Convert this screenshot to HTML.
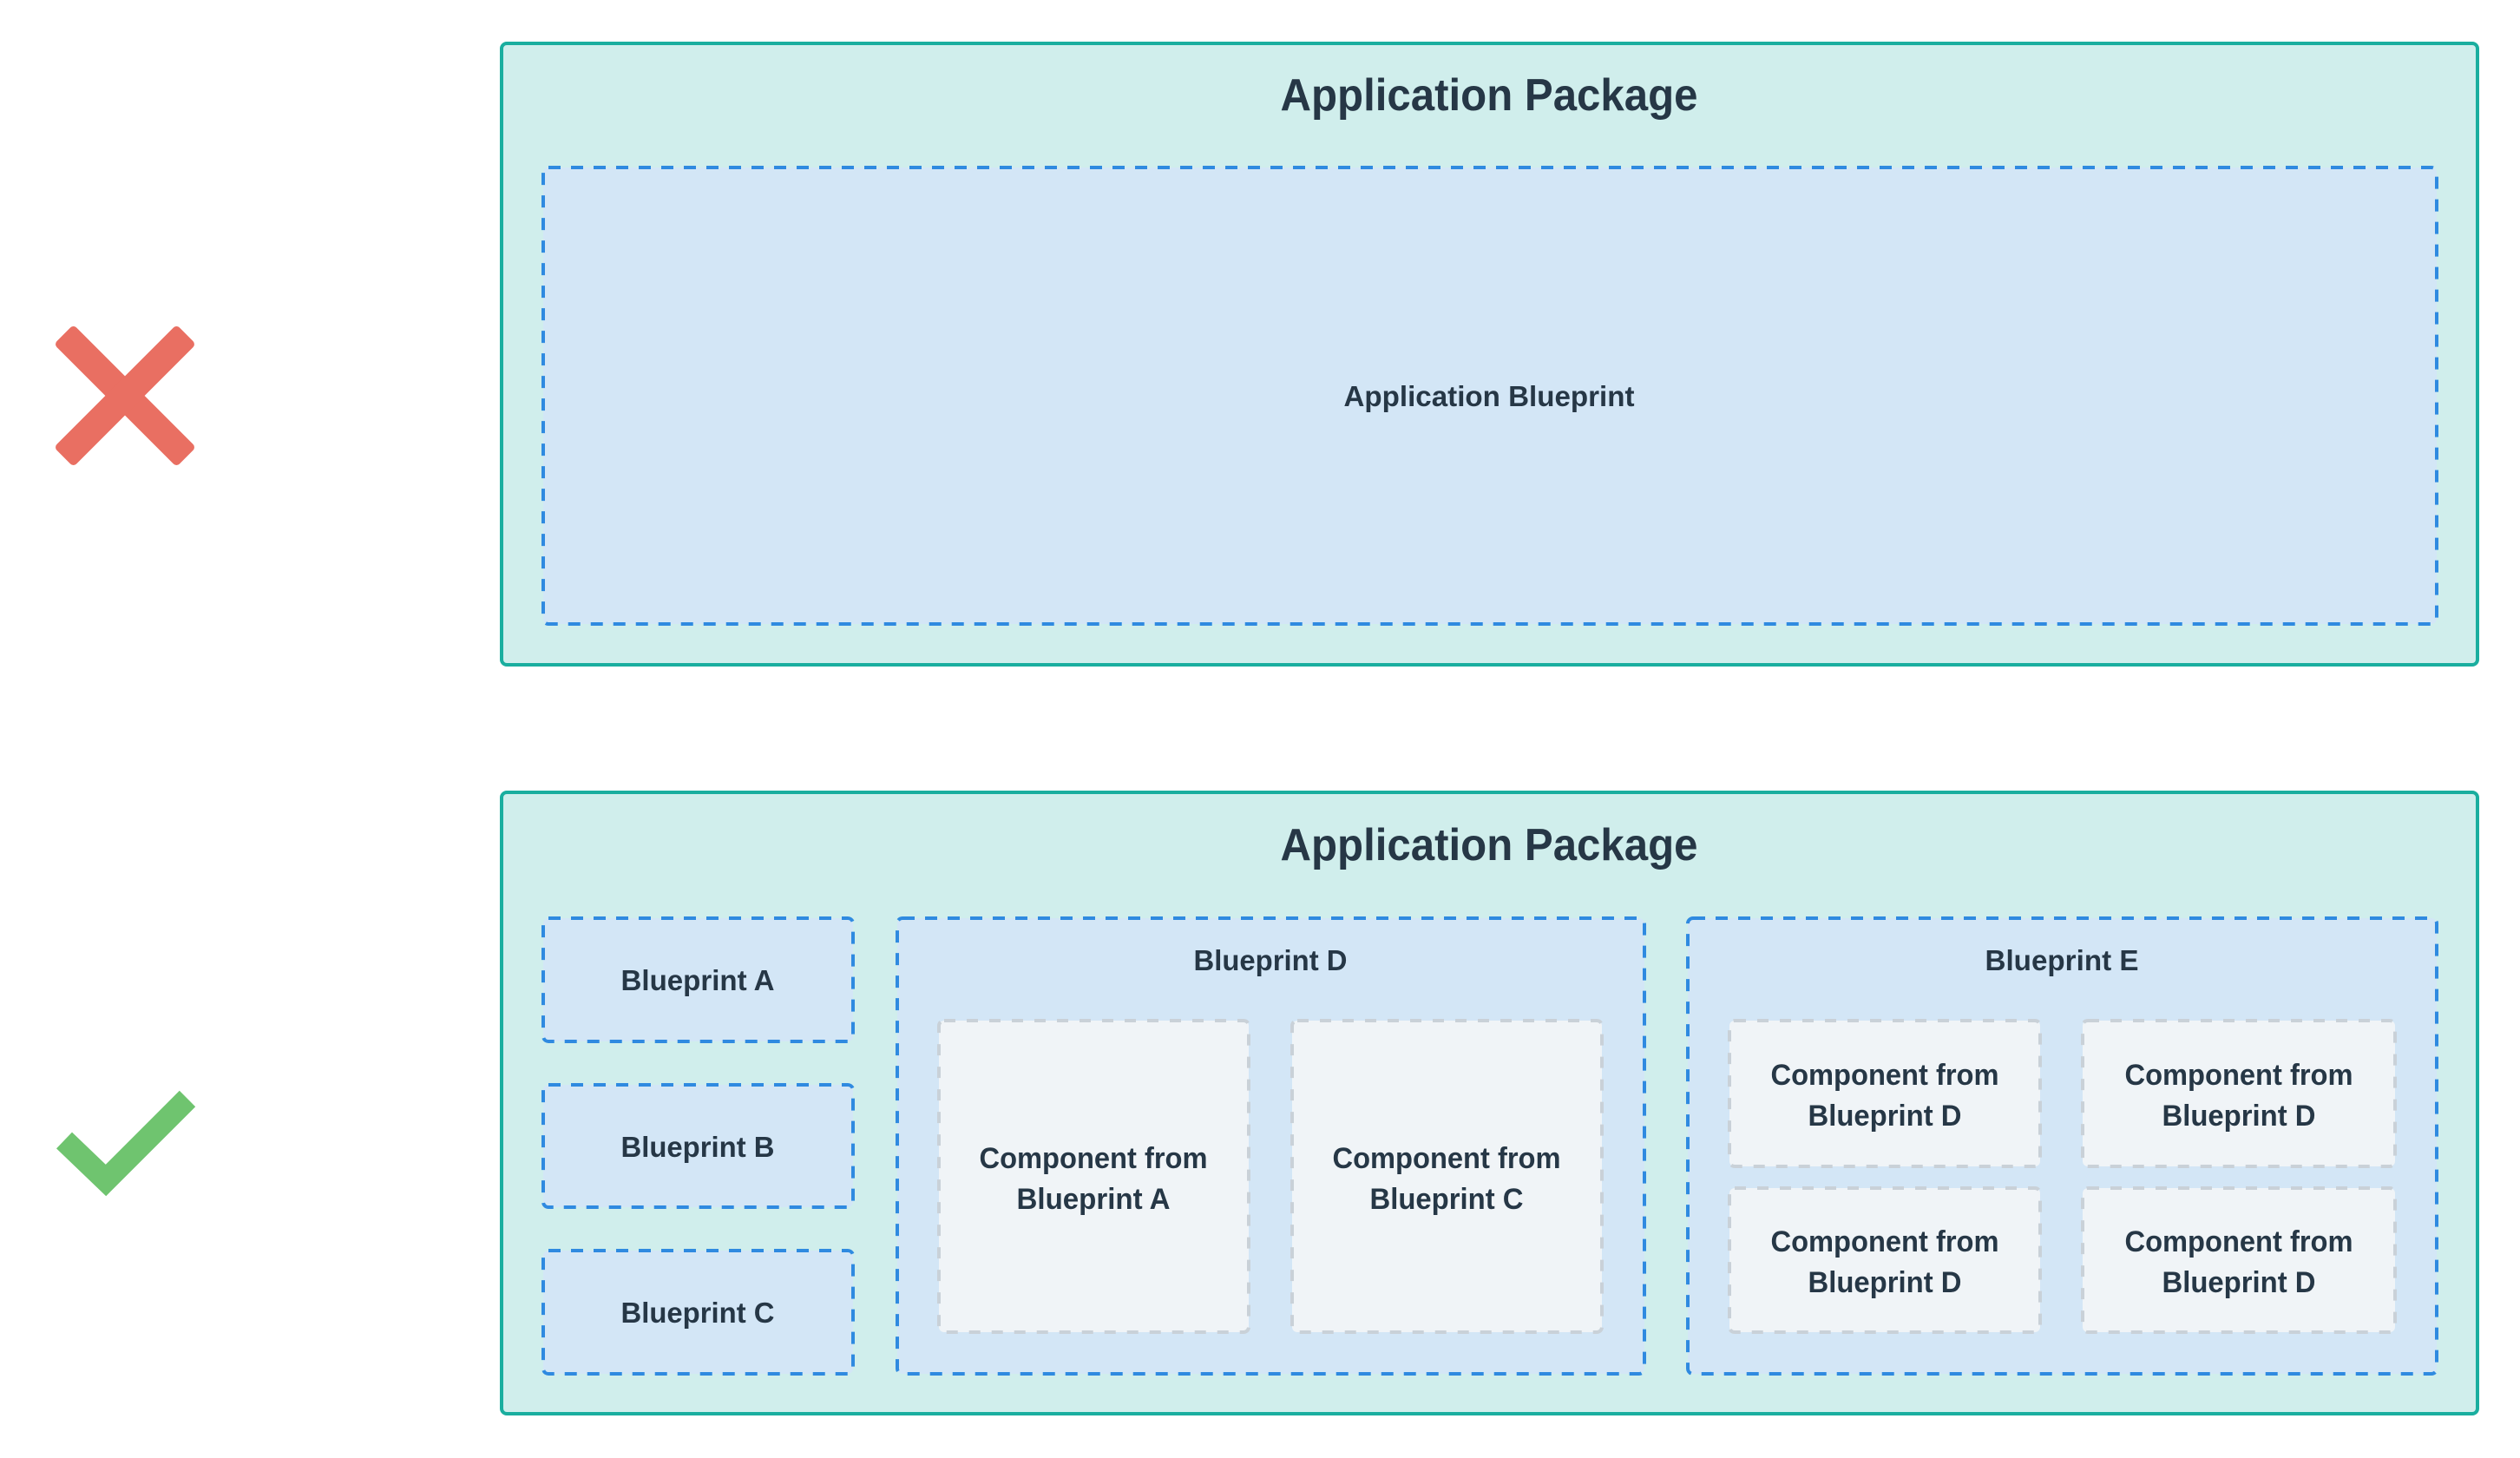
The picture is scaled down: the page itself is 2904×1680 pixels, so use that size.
<!DOCTYPE html>
<html><head><meta charset="utf-8"><style>html,body{margin:0;padding:0;background:#fff}svg{display:block}</style></head>
<body>
<svg width="2904" height="1680" viewBox="0 0 2904 1680" xmlns="http://www.w3.org/2000/svg" font-family="'Liberation Sans', sans-serif" font-weight="bold" fill="#263746">
<!-- X -->
<g transform="translate(144,456)">
<rect x="-16" y="-100" width="32" height="200" rx="5" fill="#e96f62" transform="rotate(-45)"/>
<rect x="-16" y="-100" width="32" height="200" rx="5" fill="#e96f62" transform="rotate(45)"/>
</g>
<!-- check -->
<polyline points="74,1314 122,1360 216,1266" fill="none" stroke="#6fc46f" stroke-width="26" stroke-linejoin="miter"/>

<!-- Top package -->
<rect x="578" y="50" width="2277" height="716" rx="6" fill="#d0eeec" stroke="#1aae9f" stroke-width="4"/>
<text x="1716" y="127" font-size="52" text-anchor="middle" textLength="481" lengthAdjust="spacingAndGlyphs">Application Package</text>
<rect x="626" y="193" width="2182" height="526" rx="6" fill="#d3e6f6" stroke="#2f8ae0" stroke-width="4" stroke-dasharray="14 12"/>
<text x="1716" y="468" font-size="33" text-anchor="middle" textLength="335" lengthAdjust="spacingAndGlyphs">Application Blueprint</text>

<!-- Bottom package -->
<rect x="578" y="913" width="2277" height="716" rx="6" fill="#d0eeec" stroke="#1aae9f" stroke-width="4"/>
<text x="1716" y="991" font-size="52" text-anchor="middle" textLength="481" lengthAdjust="spacingAndGlyphs">Application Package</text>

<g stroke="#2f8ae0" stroke-width="4" stroke-dasharray="14 12" fill="#d3e6f6">
<rect x="626" y="1058" width="357" height="142" rx="6"/>
<rect x="626" y="1250" width="357" height="141" rx="6"/>
<rect x="626" y="1441" width="357" height="142" rx="6"/>
<rect x="1034" y="1058" width="861" height="525" rx="6"/>
<rect x="1945" y="1058" width="863" height="525" rx="6"/>
</g>
<g font-size="33" text-anchor="middle">
<text x="804" y="1141" textLength="177" lengthAdjust="spacingAndGlyphs">Blueprint A</text>
<text x="804" y="1333" textLength="177" lengthAdjust="spacingAndGlyphs">Blueprint B</text>
<text x="804" y="1524" textLength="177" lengthAdjust="spacingAndGlyphs">Blueprint C</text>
<text x="1464" y="1118" textLength="177" lengthAdjust="spacingAndGlyphs">Blueprint D</text>
<text x="2376" y="1118" textLength="177" lengthAdjust="spacingAndGlyphs">Blueprint E</text>
</g>

<g stroke="#c9d1d8" stroke-width="4" stroke-dasharray="13 13" fill="#f0f4f7">
<rect x="1082" y="1176" width="357" height="359" rx="6"/>
<rect x="1489" y="1176" width="357" height="359" rx="6"/>
<rect x="1993" y="1176" width="358" height="168" rx="6"/>
<rect x="2400" y="1176" width="360" height="168" rx="6"/>
<rect x="1993" y="1369" width="358" height="166" rx="6"/>
<rect x="2400" y="1369" width="360" height="166" rx="6"/>
</g>
<g font-size="34" text-anchor="middle">
<text x="1260" y="1346" textLength="263" lengthAdjust="spacingAndGlyphs">Component from</text>
<text x="1260" y="1393" textLength="177" lengthAdjust="spacingAndGlyphs">Blueprint A</text>
<text x="1667" y="1346" textLength="263" lengthAdjust="spacingAndGlyphs">Component from</text>
<text x="1667" y="1393" textLength="177" lengthAdjust="spacingAndGlyphs">Blueprint C</text>

<text x="2172" y="1250" textLength="263" lengthAdjust="spacingAndGlyphs">Component from</text>
<text x="2172" y="1297" textLength="177" lengthAdjust="spacingAndGlyphs">Blueprint D</text>
<text x="2580" y="1250" textLength="263" lengthAdjust="spacingAndGlyphs">Component from</text>
<text x="2580" y="1297" textLength="177" lengthAdjust="spacingAndGlyphs">Blueprint D</text>
<text x="2172" y="1442" textLength="263" lengthAdjust="spacingAndGlyphs">Component from</text>
<text x="2172" y="1489" textLength="177" lengthAdjust="spacingAndGlyphs">Blueprint D</text>
<text x="2580" y="1442" textLength="263" lengthAdjust="spacingAndGlyphs">Component from</text>
<text x="2580" y="1489" textLength="177" lengthAdjust="spacingAndGlyphs">Blueprint D</text>
</g>
</svg>
</body></html>
